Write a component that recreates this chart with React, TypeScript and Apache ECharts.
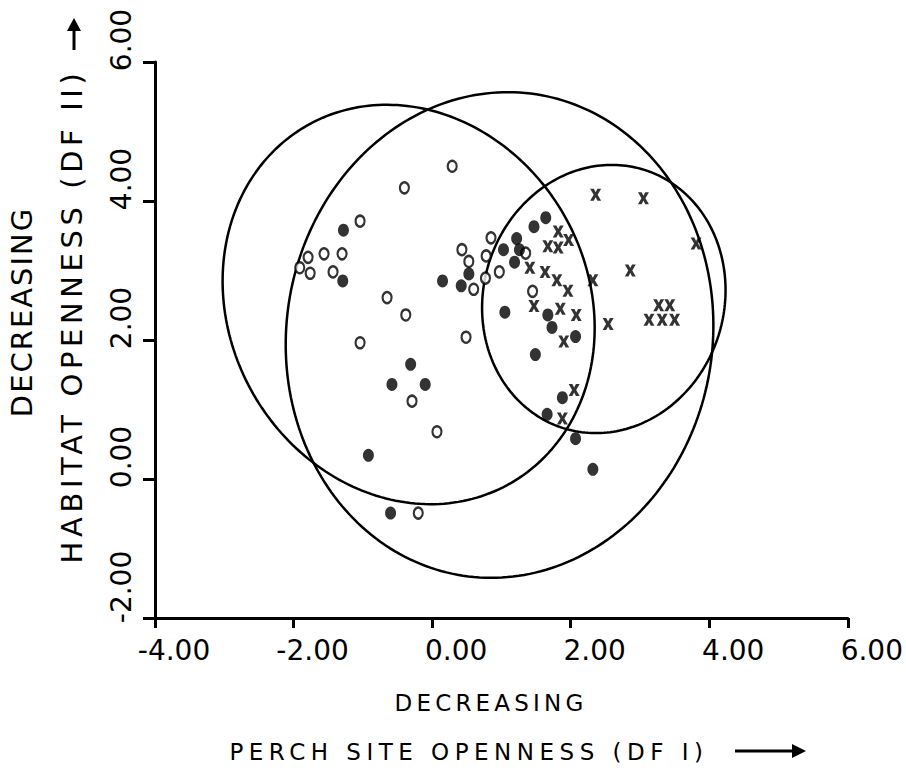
import React, { useEffect, useRef } from 'react';
import * as echarts from 'echarts';

// ---- Data ----
const xTickValues = [-4, -2, 0, 2, 4, 6];
const yTickValues = [-2, 0, 2, 4, 6];

// open circles (group 1)
const openX = [0.29, -0.40, -1.04, -1.79, -1.91, -1.76, -1.56, -1.30, -1.43, -0.65, -0.38, -1.04, 0.49, 0.43, 0.53, 0.60, 0.85, 0.78, 0.77, 0.97, 1.35, 1.45, -0.29, 0.07, -0.20];
const openY = [4.50, 4.19, 3.71, 3.19, 3.04, 2.96, 3.24, 3.24, 2.98, 2.61, 2.36, 1.96, 2.04, 3.30, 3.13, 2.73, 3.47, 3.21, 2.89, 2.98, 3.25, 2.70, 1.12, 0.68, -0.49];

// filled circles (group 2)
const filledX = [-1.28, -1.29, 0.15, 0.42, 0.53, 1.05, 1.03, 1.19, 1.22, 1.64, 1.47, 1.26, 1.67, 1.73, 2.07, 1.49, -0.31, -0.58, -0.10, -0.92, -0.60, 1.88, 1.66, 2.07, 2.32];
const filledY = [3.58, 2.85, 2.85, 2.78, 2.95, 2.40, 3.30, 3.12, 3.46, 3.76, 3.63, 3.30, 2.36, 2.18, 2.05, 1.79, 1.65, 1.36, 1.36, 0.34, -0.49, 1.17, 0.93, 0.58, 0.14];

// crosses (group 3)
const crossX = [2.36, 3.05, 3.81, 1.82, 1.97, 1.67, 1.82, 1.41, 1.63, 1.80, 1.96, 2.32, 2.86, 1.47, 1.85, 2.08, 2.54, 1.90, 3.27, 3.43, 3.13, 3.32, 3.50, 2.05, 1.88];
const crossY = [4.09, 4.04, 3.39, 3.56, 3.44, 3.35, 3.33, 3.04, 2.98, 2.86, 2.71, 2.86, 3.00, 2.49, 2.45, 2.36, 2.23, 1.98, 2.50, 2.50, 2.29, 2.29, 2.29, 1.28, 0.87];

// ellipses: centre x, centre y, semi-axis 1, semi-axis 2, angle of axis 1 (deg)
const ellipseCx = [-0.339, 0.973, 2.478];
const ellipseCy = [2.511, 2.072, 2.590];
const ellipseA = [2.963, 3.503, 1.948];
const ellipseB = [2.586, 3.076, 1.737];
const ellipseAngle = [-60, 81.3, 72.5];

const xTitle1 = 'DECREASING';
const xTitle2 = 'PERCH SITE OPENNESS (DF I)';
const yTitle1 = 'DECREASING';
const yTitle2 = 'HABITAT OPENNESS (DF II)';

const FONT = '"DejaVu Sans", "Liberation Sans", sans-serif';

const zip = (xs: number[], ys: number[]) => xs.map((x, i) => [x, ys[i]]);

export default function App() {
  const ref = useRef<HTMLDivElement>(null);

  useEffect(() => {
    if (!ref.current) return;
    const el = ref.current;
    const chart = echarts.init(el, null, { renderer: 'svg' });

    const fmt = (v: number) => v.toFixed(2);
    const labelRich = (pos: number, neg: number) => ({
      t: { fontSize: 28, fontFamily: FONT, color: '#000' },
      p: { width: pos, fontSize: 28, fontFamily: FONT },
      n: { width: neg, fontSize: 28, fontFamily: FONT },
    });

    const ellipseData = ellipseCx.map((cx, i) => [cx, ellipseCy[i], ellipseA[i], ellipseB[i], ellipseAngle[i]]);

    const option: any = {
      animation: false,
      backgroundColor: '#fff',
      grid: { left: 155, top: 62, right: 57, bottom: 152, containLabel: false },
      xAxis: {
        type: 'value',
        min: -4,
        max: 6,
        interval: 2,
        splitLine: { show: false },
        axisLine: { onZero: false, lineStyle: { color: '#000', width: 3 } },
        axisTick: { length: 10, lineStyle: { color: '#000', width: 3 } },
        axisLabel: {
          margin: 18,
          formatter: (v: number) => `{${v < 0 ? 'n' : 'p'}| }{t|${fmt(v)}}`,
          rich: labelRich(48, 38),
        },
      },
      yAxis: {
        type: 'value',
        min: -2,
        max: 6,
        interval: 2,
        splitLine: { show: false },
        axisLine: { onZero: false, lineStyle: { color: '#000', width: 3 } },
        axisTick: { length: 12, lineStyle: { color: '#000', width: 3 } },
        axisLabel: {
          margin: 20,
          rotate: 90,
          formatter: (v: number) => `{${v < 0 ? 'n' : 'p'}| }{t|${fmt(v)}}`,
          rich: labelRich(44, 62),
        },
      },
      series: [
        {
          type: 'custom',
          data: ellipseData,
          clip: false,
          silent: true,
          z: 1,
          renderItem: (_params: any, api: any) => {
            const cx = api.value(0);
            const cy = api.value(1);
            const a = api.value(2);
            const b = api.value(3);
            const ang = (api.value(4) * Math.PI) / 180;
            const pts: number[][] = [];
            const n = 240;
            for (let i = 0; i < n; i++) {
              const t = (i / n) * Math.PI * 2;
              const px = cx + a * Math.cos(t) * Math.cos(ang) - b * Math.sin(t) * Math.sin(ang);
              const py = cy + a * Math.cos(t) * Math.sin(ang) + b * Math.sin(t) * Math.cos(ang);
              pts.push(api.coord([px, py]));
            }
            return {
              type: 'polygon',
              shape: { points: pts },
              style: { fill: 'none', stroke: '#000', lineWidth: 2.5 },
            };
          },
        },
        {
          type: 'scatter',
          data: zip(openX, openY),
          symbol: 'circle',
          symbolSize: [9, 11],
          itemStyle: { color: '#fff', borderColor: '#000', borderWidth: 2.3 },
          z: 3,
          silent: true,
        },
        {
          type: 'scatter',
          data: zip(filledX, filledY),
          symbol: 'circle',
          symbolSize: [11, 13],
          itemStyle: { color: '#000' },
          z: 3,
          silent: true,
        },
        {
          type: 'scatter',
          data: zip(crossX, crossY),
          symbol: 'path://M0,0 L4,0 L6,3.5 L8,0 L12,0 L8.2,6 L12,12 L8,12 L6,8.5 L4,12 L0,12 L3.8,6 Z',
          symbolSize: [11, 12],
          itemStyle: { color: '#000' },
          z: 3,
          silent: true,
        },
      ],
      graphic: [
        {
          type: 'text', x: 22, y: 312, rotation: Math.PI / 2, silent: true,
          style: { text: yTitle1, fontSize: 29, fontFamily: FONT, fill: '#000', align: 'center', verticalAlign: 'middle', textAlign: 'center', textVerticalAlign: 'middle' },
        },
        {
          type: 'text', x: 72, y: 316, rotation: Math.PI / 2, silent: true,
          style: { text: yTitle2, fontSize: 29, fontFamily: FONT, fill: '#000', align: 'center', verticalAlign: 'middle', textAlign: 'center', textVerticalAlign: 'middle' },
        },
        {
          type: 'text', x: 491, y: 703, silent: true,
          style: { text: xTitle1, fontSize: 23, fontFamily: FONT, fill: '#000', align: 'center', verticalAlign: 'middle', textAlign: 'center', textVerticalAlign: 'middle' },
        },
        {
          type: 'text', x: 469, y: 752, silent: true,
          style: { text: xTitle2, fontSize: 23, fontFamily: FONT, fill: '#000', align: 'center', verticalAlign: 'middle', textAlign: 'center', textVerticalAlign: 'middle' },
        },
        { type: 'line', silent: true, shape: { x1: 735, y1: 751, x2: 796, y2: 751 }, style: { stroke: '#000', lineWidth: 3 } },
        { type: 'polygon', silent: true, shape: { points: [[806, 751], [792, 744], [792, 758]] }, style: { fill: '#000' } },
        { type: 'line', silent: true, shape: { x1: 74, y1: 50, x2: 74, y2: 28 }, style: { stroke: '#000', lineWidth: 3 } },
        { type: 'polygon', silent: true, shape: { points: [[74, 18], [67, 31], [81, 31]] }, style: { fill: '#000' } },
      ],
    };

    const spacing = (txt: string, size: string): number | null => {
      if (txt === yTitle2) return 4.6;
      if (txt === xTitle2) return 5.5;
      if (txt === 'DECREASING') return size === '29px' ? 2 : 4.2;
      return null;
    };
    const applySpacing = () => {
      try {
        el.querySelectorAll('text').forEach((t) => {
          const size = window.getComputedStyle(t).fontSize;
          const s = spacing((t.textContent || '').trim(), size);
          if (s != null) t.setAttribute('letter-spacing', String(s));
        });
      } catch (e) {
        /* ignore */
      }
    };

    chart.on('finished', applySpacing);
    chart.setOption(option);
    applySpacing();

    return () => {
      chart.dispose();
    };
  }, []);

  return (
    <div
      ref={ref}
      style={{ position: 'absolute', left: 0, top: 0, width: 906, height: 770, background: '#fff' }}
    />
  );
}
